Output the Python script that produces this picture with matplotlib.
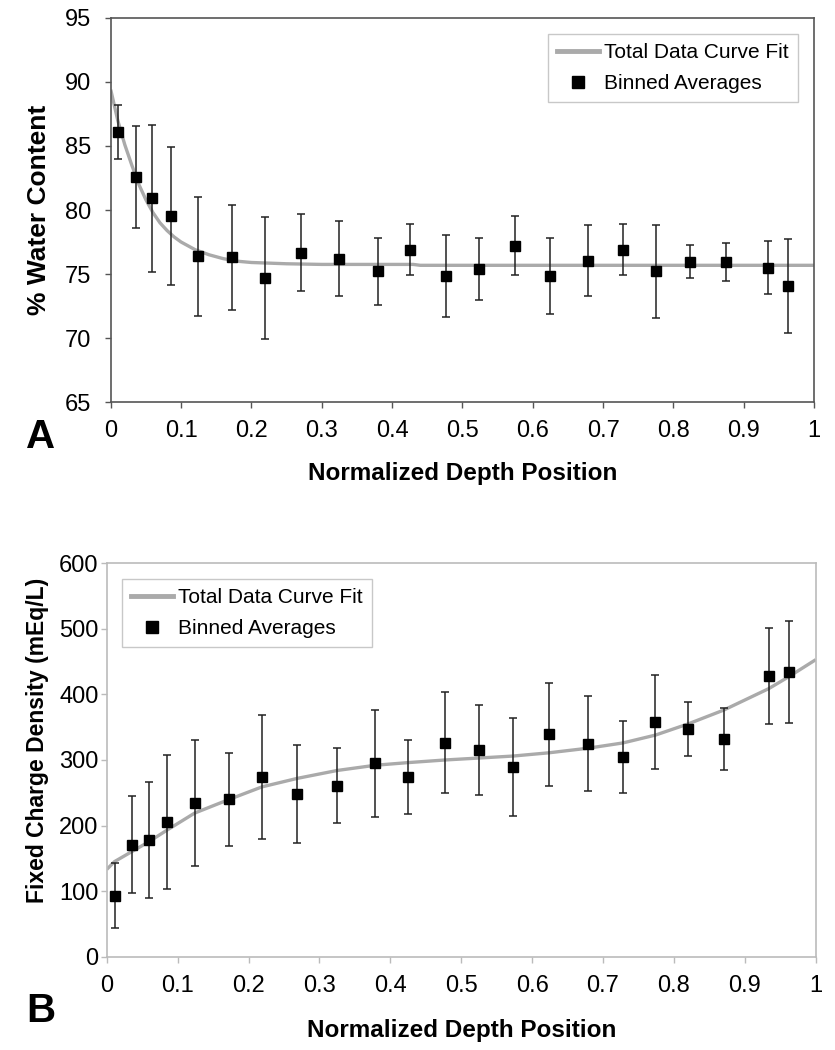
import matplotlib
matplotlib.use("Agg")
import matplotlib.pyplot as plt
from matplotlib.lines import Line2D

plt.rcParams['font.family'] = ['Liberation Sans', 'DejaVu Sans']

# ---- Panel A data ----
a_x = [0.011, 0.036, 0.059, 0.085, 0.124, 0.173, 0.219, 0.270, 0.325, 0.380, 0.426,
       0.476, 0.524, 0.575, 0.624, 0.678, 0.728, 0.775, 0.823, 0.875, 0.935, 0.963]
a_y = [86.1, 82.6, 80.9, 79.55, 76.4, 76.3, 74.7, 76.65, 76.2, 75.2, 76.9,
       74.85, 75.4, 77.2, 74.85, 76.05, 76.9, 75.2, 75.95, 75.95, 75.5, 74.05]
a_err = [2.1, 4.0, 5.75, 5.4, 4.65, 4.1, 4.75, 3.0, 2.95, 2.65, 2.0,
         3.2, 2.45, 2.3, 2.95, 2.8, 2.0, 3.6, 1.3, 1.5, 2.05, 3.65]
a_fit_x = [0.0, 0.01, 0.02, 0.03, 0.04, 0.05, 0.06, 0.07, 0.08, 0.09, 0.10, 0.12,
           0.14, 0.16, 0.18, 0.20, 0.25, 0.30, 0.43, 0.44, 0.60, 0.80, 1.0]
a_fit_y = [89.4, 87.0, 85.1, 83.5, 82.0, 80.8, 79.8, 79.0, 78.4, 77.9, 77.5, 76.9,
           76.5, 76.2, 76.0, 75.9, 75.8, 75.75, 75.75, 75.68, 75.68, 75.68, 75.68]

# ---- Panel B data ----
b_x = [0.011, 0.035, 0.059, 0.085, 0.124, 0.173, 0.219, 0.269, 0.325, 0.379, 0.425,
       0.477, 0.525, 0.573, 0.624, 0.679, 0.728, 0.774, 0.820, 0.870, 0.934, 0.962]
b_y = [93, 171, 178, 205, 235, 240, 274, 248, 261, 295, 274,
       326, 315, 289, 339, 325, 304, 358, 347, 332, 428, 434]
b_err = [50, 74, 89, 102, 96, 71, 95, 75, 57, 82, 56,
         77, 69, 75, 79, 73, 55, 71, 41, 47, 73, 78]
b_fit_x = [0.0, 0.011, 0.035, 0.059, 0.085, 0.124, 0.173, 0.219, 0.269, 0.325, 0.379,
           0.425, 0.477, 0.525, 0.573, 0.624, 0.679, 0.728, 0.774, 0.820, 0.870,
           0.934, 0.962, 1.0]
b_fit_y = [133, 145, 160, 175, 193, 219, 240, 259, 272, 284, 292,
           296, 300, 303, 306, 311, 318, 326, 338, 355, 376,
           409, 427, 453]

x_ticks = [0, 0.1, 0.2, 0.3, 0.4, 0.5, 0.6, 0.7, 0.8, 0.9, 1]
x_tick_labels = ['0', '0.1', '0.2', '0.3', '0.4', '0.5', '0.6', '0.7', '0.8', '0.9', '1']

fig = plt.figure(figsize=(8.35, 10.5), dpi=100)
axA = fig.add_axes([0.1326, 0.6171, 0.8424, 0.3658])
axB = fig.add_axes([0.1278, 0.0889, 0.8491, 0.3746])

fit_color = '#aaaaaa'


def style(ax, spine_color, ypad):
    for s in ax.spines.values():
        s.set_color(spine_color)
        s.set_linewidth(1.2)
    ax.tick_params(axis='both', direction='out', length=4, width=1,
                   color=spine_color, labelsize=17)
    ax.tick_params(axis='x', pad=9)
    ax.tick_params(axis='y', pad=ypad)
    ax.set_xticks(x_ticks)
    ax.set_xticklabels(x_tick_labels)
    ax.set_xlim(0, 1)


# Panel A
axA.plot(a_fit_x, a_fit_y, color=fit_color, lw=2.4, zorder=2, solid_capstyle='butt')
axA.errorbar(a_x, a_y, yerr=a_err, fmt='s', color='black', ms=6.5,
             ecolor='#222222', elinewidth=1.1, capsize=2.8, capthick=1.1, zorder=3)
axA.set_ylim(65, 95)
axA.set_yticks([65, 70, 75, 80, 85, 90, 95])
style(axA, '#555555', 10)
axA.set_ylabel('% Water Content', fontsize=19, fontweight='bold', labelpad=10)
axA.set_xlabel('Normalized Depth Position', fontsize=17.5, fontweight='bold', labelpad=14)

# Panel B
axB.plot(b_fit_x, b_fit_y, color=fit_color, lw=2.4, zorder=2, solid_capstyle='butt')
axB.errorbar(b_x, b_y, yerr=b_err, fmt='s', color='black', ms=6.5,
             ecolor='#222222', elinewidth=1.1, capsize=2.8, capthick=1.1, zorder=3)
axB.set_ylim(0, 600)
axB.set_yticks([0, 100, 200, 300, 400, 500, 600])
style(axB, '#bbbbbb', 2)
axB.set_ylabel('Fixed Charge Density (mEq/L)', fontsize=16.5, fontweight='bold', labelpad=7)
axB.yaxis.label.set_y(0.55)
axB.set_xlabel('Normalized Depth Position', fontsize=17.5, fontweight='bold', labelpad=16)

handles = [Line2D([], [], color=fit_color, lw=3.5),
           Line2D([], [], marker='s', ls='none', color='black', ms=8)]
labels = ['Total Data Curve Fit', 'Binned Averages']
for ax, loc, anchor in ((axA, 'upper right', (0.977, 0.958)),
                        (axB, 'upper left', (0.021, 0.96))):
    leg = ax.legend(handles, labels, loc=loc, fontsize=15, frameon=True, fancybox=False,
                    edgecolor='#bbbbbb', handlelength=2.0, handletextpad=0.25,
                    borderpad=0.45, labelspacing=0.55, borderaxespad=0,
                    bbox_to_anchor=anchor)
    leg.get_frame().set_linewidth(1.0)

fig.text(0.049, 0.584, 'A', fontsize=29, fontweight='bold', ha='center', va='center')
fig.text(0.049, 0.037, 'B', fontsize=29, fontweight='bold', ha='center', va='center')

fig.savefig('out.png', dpi=100)
